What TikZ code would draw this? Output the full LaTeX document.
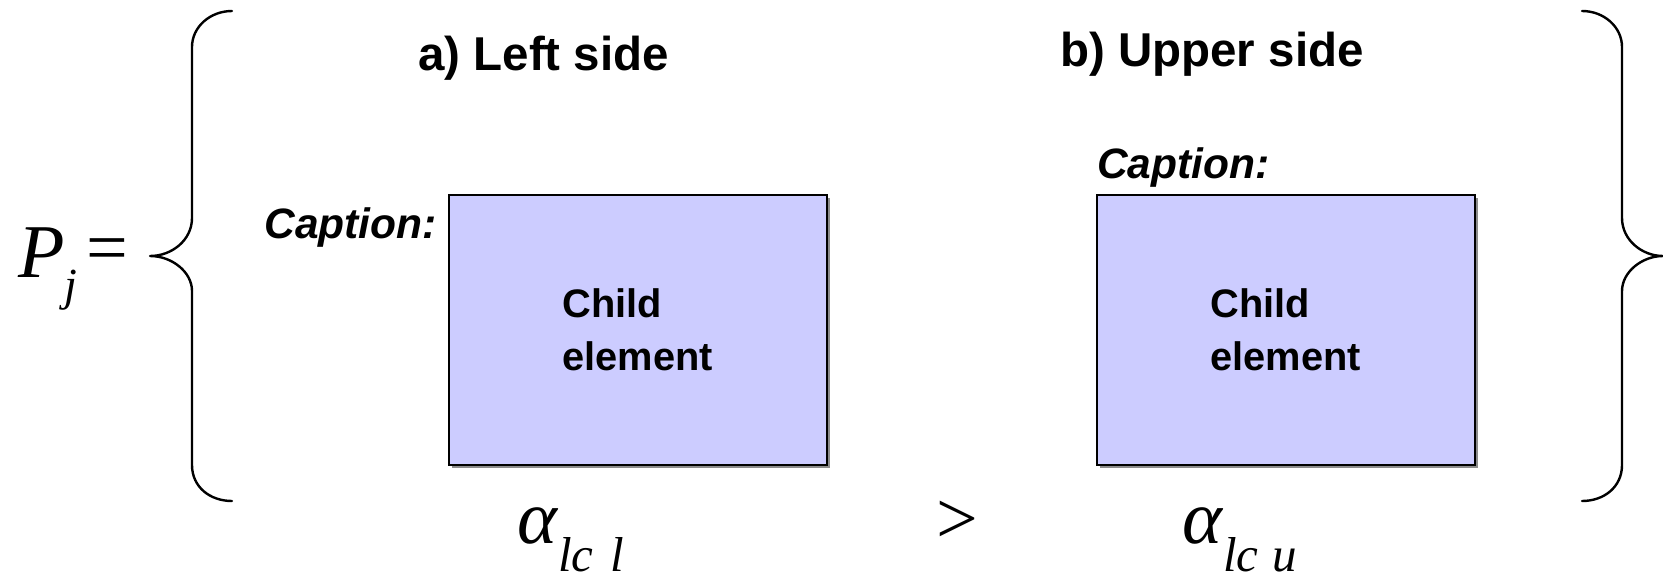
\documentclass[tikz,border=0pt]{standalone}
\usepackage{fontspec}
\setmainfont{Liberation Serif}
\newfontfamily\sfb{Liberation Sans}
\usetikzlibrary{shadows}
\definecolor{boxfill}{RGB}{204,204,255}
\tikzset{
  heading/.style={inner sep=0pt, font=\sfb\bfseries\fontsize{47.5}{50}\selectfont},
  captxt/.style={inner sep=0pt, font=\sfb\bfseries\itshape\fontsize{42.5}{45}\selectfont},
  childbox/.style={draw=black, line width=2pt, fill=boxfill, minimum width=378pt, minimum height=270pt,
    inner sep=0pt, drop shadow={shadow xshift=3pt, shadow yshift=-3pt, fill=black!45, opacity=1}},
  childtxt/.style={inner sep=0pt, align=left, font=\sfb\bfseries\fontsize{39.8}{53}\selectfont},
  bigmath/.style={inner sep=0pt, font=\fontsize{76}{80}\selectfont},
  submath/.style={inner sep=0pt, font=\itshape\fontsize{49}{50}\selectfont},
  bracestyle/.style={line width=2.4pt, line cap=round, line join=round}
}
\begin{document}
\begin{tikzpicture}[x=1pt, y=-1pt]
\useasboundingbox (0,0) rectangle (1663,574);

% braces
\draw[bracestyle] (232,11) .. controls (210,11) and (192,27) .. (192,47) -- (192,218)
  .. controls (192,240) and (172,256) .. (150,256)
  .. controls (172,256) and (192,272) .. (192,291) -- (192,465)
  .. controls (192,487) and (210,501) .. (232,501);
\draw[bracestyle] (1582,11) .. controls (1604,11) and (1622,27) .. (1622,47) -- (1622,218)
  .. controls (1622,240) and (1642,256) .. (1663,256)
  .. controls (1642,256) and (1622,272) .. (1622,291) -- (1622,465)
  .. controls (1622,487) and (1604,501) .. (1582,501);

% P_j =
\node[bigmath, anchor=base west] (P) at (18,277) {\itshape P};
\node[submath, font=\itshape\fontsize{46}{50}\selectfont, anchor=base west] (j) at (64,300) {j};
\node[bigmath, font=\fontsize{74}{80}\selectfont, anchor=base west] (eq) at (86,272) {=};

% headings
\node[heading, anchor=base west] (ha) at (418,70) {a) Left side};
\node[heading, anchor=base west] (hb) at (1060,66) {b) Upper side};

% boxes
\node[childbox] (box1) at (637.5,330) {};
\node[childbox] (box2) at (1285.5,330) {};
\node[childtxt] (t1) at (box1.center) {Child\\element};
\node[childtxt] (t2) at (box2.center) {Child\\element};

% captions
\node[captxt, anchor=base east] (c1) at (437,238) {Caption:};
\node[captxt, anchor=base west] (c2) at (1097,178) {Caption:};

% alpha terms
\node[bigmath, anchor=base west] (a1) at (517,543) {\itshape α};
\node[submath, anchor=base west] (s1) at (558,571) {lc};
\node[submath, anchor=base west] (s1b) at (610,571) {l};
\node[bigmath, font=\fontsize{74}{80}\selectfont, anchor=base west] (gt) at (936,543) {>};
\node[bigmath, anchor=base west] (a2) at (1182,543) {\itshape α};
\node[submath, anchor=base west] (s2) at (1223,571) {lc};
\node[submath, anchor=base west] (s2b) at (1272,571) {u};
\end{tikzpicture}
\end{document}
